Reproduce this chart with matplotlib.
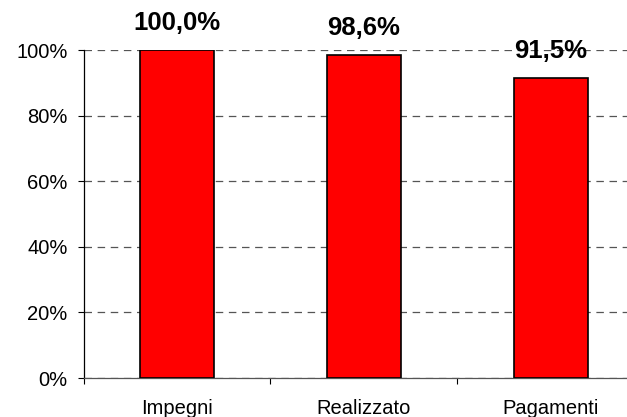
import matplotlib.pyplot as plt
from matplotlib.ticker import FixedLocator

plt.rcParams['font.family'] = ['Liberation Sans', 'DejaVu Sans']

categories = ['Impegni', 'Realizzato', 'Pagamenti']
values = [100.0, 98.6, 91.5]
y_ticks = [0, 20, 40, 60, 80, 100]

fig = plt.figure(figsize=(6.27, 4.17), dpi=100)
W, H = 627, 417
# plot area is cut off on the right in the original
ax = fig.add_axes([83.5 / W, 39 / H, 561 / W, 328 / H])

x = list(range(len(categories)))
ax.bar(x, values, width=0.4, color='#ff0000', edgecolor='black', linewidth=1.2, zorder=3)

for xi, v in zip(x, values):
    ax.text(xi, v + 4.5, f"{v:.1f}%".replace('.', ','), ha='center', va='bottom',
            fontsize=18.5, fontweight='bold')

ax.set_xlim(-0.5, len(categories) - 0.5)
ax.set_ylim(0, 100)
ax.set_yticks(y_ticks)
ax.set_yticklabels([f"{t}%" for t in y_ticks])
ax.set_xticks(x)
ax.set_xticklabels(categories)
ax.xaxis.set_minor_locator(FixedLocator([i + 0.5 for i in range(-1, len(categories))]))

ax.tick_params(axis='y', direction='out', length=4.5, width=0.8, pad=7, labelsize=14.5)
ax.tick_params(axis='x', which='major', length=0, pad=15, labelsize=14.5)
ax.tick_params(axis='x', which='minor', direction='out', length=4.5, width=0.8)

ax.grid(axis='y', color='#555555', linestyle=(0, (6, 4.5)), linewidth=0.9, zorder=0)
for s in ['top', 'right']:
    ax.spines[s].set_visible(False)
ax.spines['left'].set_linewidth(0.9)
ax.spines['bottom'].set_linewidth(0.9)
ax.spines['bottom'].set_color('#555555')

fig.savefig('out.png', dpi=100)
